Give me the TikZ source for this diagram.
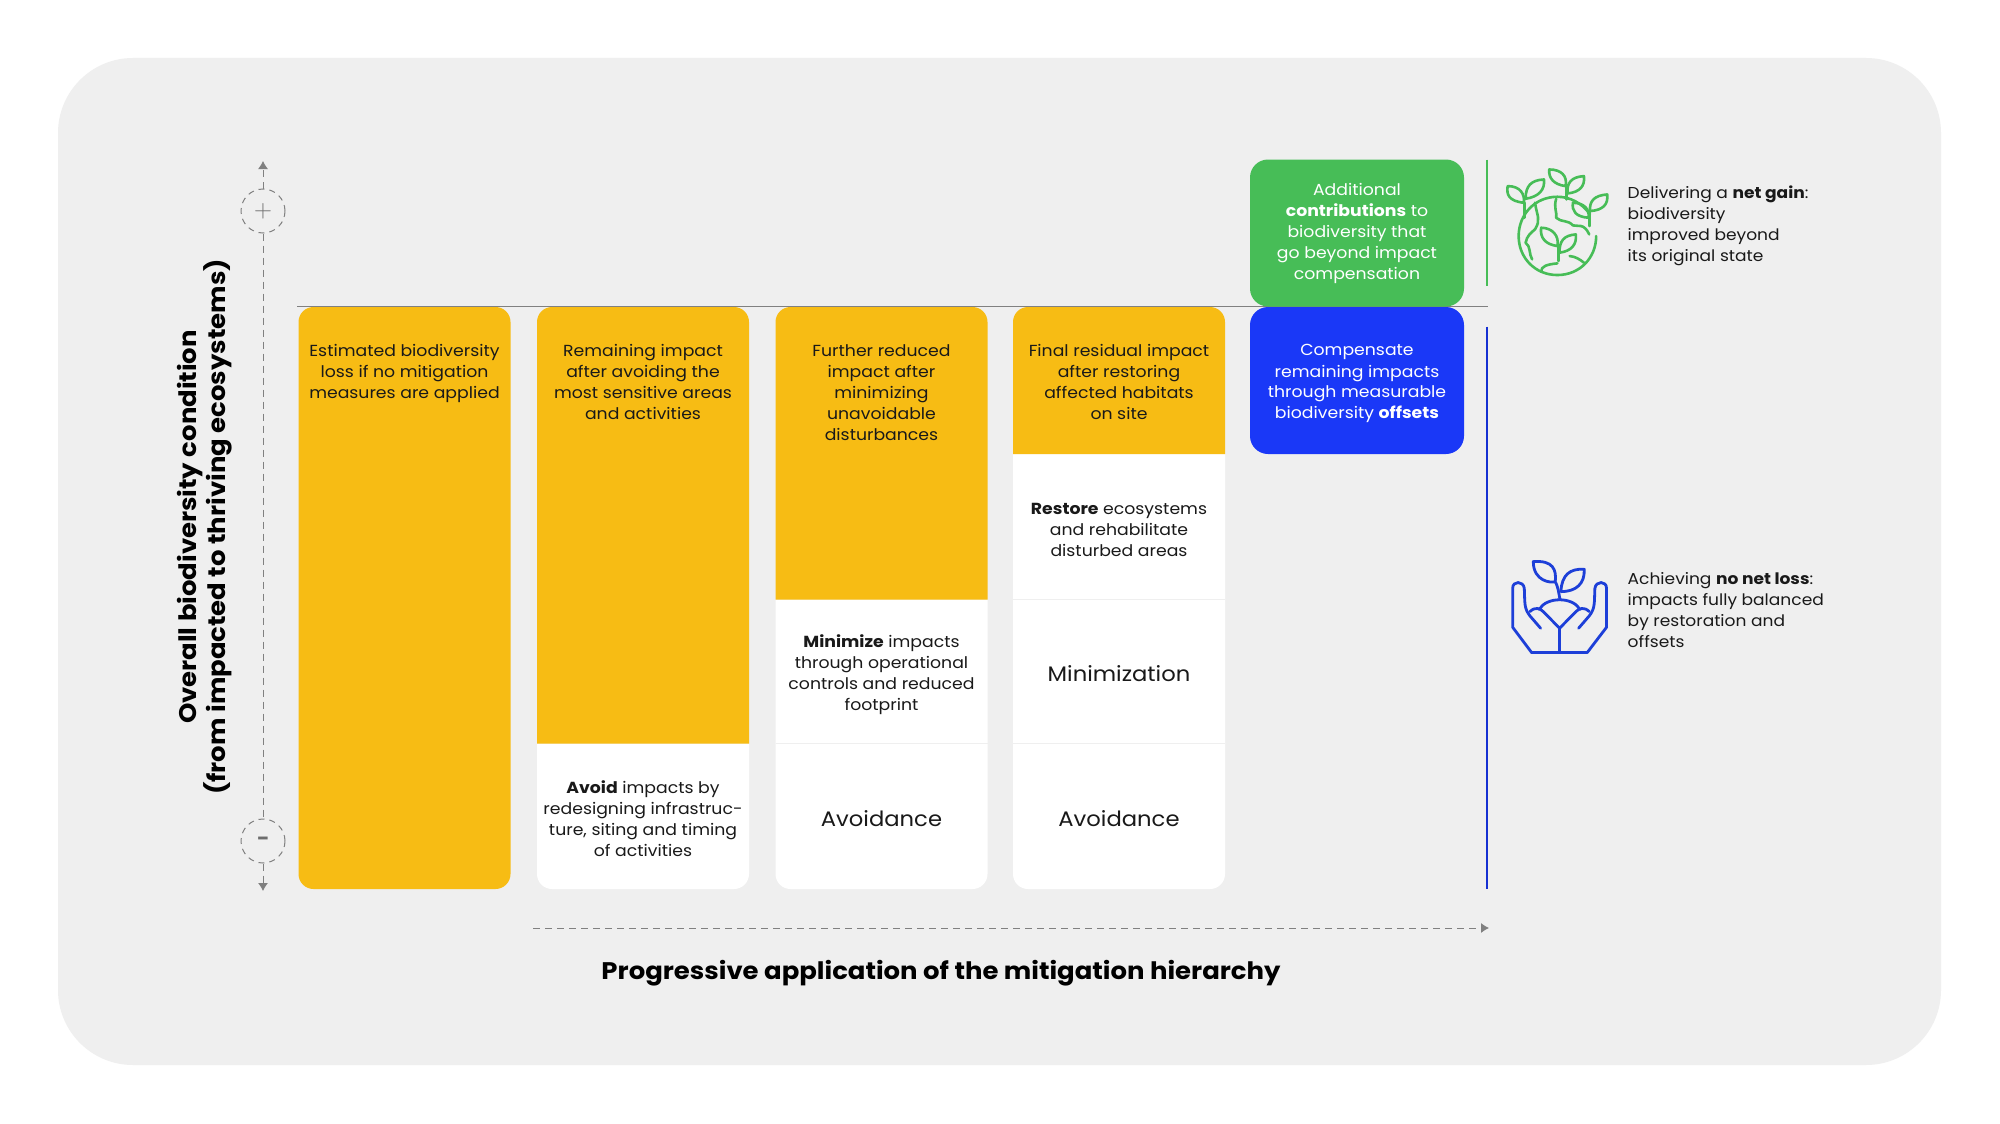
\documentclass[tikz,border=0pt]{standalone}
\usepackage{fontspec}
\setmainfont{Poppins}[FakeStretch=1.08]
\usetikzlibrary{arrows.meta}
\definecolor{panelgray}{HTML}{EFEFEF}
\definecolor{baryellow}{HTML}{F7BC14}
\definecolor{offsetblue}{HTML}{1A38F7}
\definecolor{gaingreen}{HTML}{47BD57}
\definecolor{axisgray}{HTML}{808080}
\definecolor{iconblue}{HTML}{1D3FD8}
\tikzset{
  celltext/.style={anchor=north, inner sep=0pt, align=center, text=black!90, font=\fontsize{16}{21}\selectfont},
  steptext/.style={anchor=center, inner sep=0pt, align=center, text=black!90, font=\fontsize{21}{26}\selectfont},
  sidetext/.style={anchor=west, inner sep=0pt, align=left, text=black!90, font=\fontsize{15.8}{21}\selectfont},
  colorbox/.style={fill=offsetblue, rounded corners=18pt, minimum width=214pt, inner sep=0pt},
  axisline/.style={axisgray, line width=1pt, dash pattern=on 7pt off 5pt, -{Latex[length=8pt,width=10pt]}},
  axiscircle/.style={circle, draw=axisgray, line width=1pt, dash pattern=on 6pt off 5pt, minimum size=44pt, inner sep=0pt, text=axisgray!85!black},
  axistitle/.style={align=center, text=black, font=\fontsize{24}{25}\bfseries\selectfont},
}
\begin{document}
\begin{tikzpicture}[x=1pt, y=-1pt]
    \useasboundingbox (0,0) rectangle (2000,1124);
    \fill[white] (0,0) rectangle (2000,1124);
    \fill[panelgray, rounded corners=75pt] (58,58) rectangle (1941,1065);

    % Baseline behind the bars
    \coordinate (lineL) at (297,306.5);
    \coordinate (lineR) at (1488,306.5);
    \draw[axisgray, line width=1.2pt] (lineL) -- (lineR);

    % Bars
    \fill[baryellow, rounded corners=15pt] (298.5,307) rectangle (510.5,889);
    \foreach \x/\ybot in {537/743.5,775.5/599.5,1013/454}{
        \fill[white] (\x,\ybot) [rounded corners=15pt] -- (\x,889) -- (\x+212,889) [sharp corners] -- (\x+212,\ybot) -- cycle;
        \fill[baryellow] (\x,\ybot) [rounded corners=15pt] -- (\x,307) -- (\x+212,307) [sharp corners] -- (\x+212,\ybot) -- cycle;
    }
    \foreach \x/\y in {775.5/743.5,1013/599.5,1013/743.5}{
        \draw[panelgray, line width=0.8pt] (\x,\y) -- (\x+212,\y);
    }

    % Texts on yellow
    \node[celltext] (lossA) at (404.5,344.5) {Estimated biodiversity\\loss if no mitigation\\measures are applied};
    \node[celltext] (lossB) at (643,344.5) {Remaining impact\\after avoiding the\\most sensitive areas\\and activities};
    \node[celltext] (lossC) at (881.5,344.5) {Further reduced\\impact after\\minimizing\\unavoidable\\disturbances};
    \node[celltext] (lossD) at (1119,344.5) {Final residual impact\\after restoring\\affected habitats\\on site};

    % Texts on white
    \node[celltext, anchor=center] (avoidB) at (643,819) {\textbf{Avoid} impacts by\\redesigning infrastruc-\\ture, siting and timing\\of activities};
    \node[celltext, anchor=center] (minC) at (881.5,675) {\textbf{Minimize} impacts\\through operational\\controls and reduced\\footprint};
    \node[celltext, anchor=center] (restD) at (1119,529.5) {\textbf{Restore} ecosystems\\and rehabilitate\\disturbed areas};
    \node[steptext] (avoidC) at (881.5,819) {Avoidance};
    \node[steptext] (avoidD) at (1119,819) {Avoidance};
    \node[steptext] (minD) at (1119,673.5) {Minimization};

    % Offsets and gain
    \node[colorbox, fill=gaingreen, minimum height=147pt] (gain) at (1357,233) {};
    \node[colorbox, minimum height=147pt] (offset) at (1357,380.5) {};
    \node[celltext, anchor=center, text=white] (gainText) at (1357,233.5) {Additional\\\textbf{contributions} to\\biodiversity that\\go beyond impact\\compensation};
    \node[celltext, text=white] (offsetText) at (1357,344.5) {Compensate\\remaining impacts\\through measurable\\biodiversity \textbf{offsets}};

    % Side rules
    \coordinate (gainA) at (1487,159.5);
    \coordinate (gainB) at (1487,285.5);
    \coordinate (lossTop) at (1487,326.5);
    \coordinate (lossBot) at (1487,889);
    \draw[gaingreen, line width=1.2pt] (gainA) -- (gainB);
    \draw[offsetblue!85!black, line width=1.4pt] (lossTop) -- (lossBot);

    % Side notes
    \node[sidetext] (noteGain) at (1627.5,226) {Delivering a \textbf{net gain}:\\biodiversity\\improved beyond\\its original state};
    \node[sidetext] (noteLoss) at (1627.5,610) {Achieving \textbf{no net loss}:\\impacts fully balanced\\by restoration and\\offsets};

    % Vertical axis
    \node[axiscircle, font=\fontsize{34}{34}\selectfont] (plus) at (263,211) {$+$};
    \node[axiscircle, font=\fontsize{20}{20}\bfseries\selectfont] (minus) at (263,841) {\raisebox{-2pt}{−}};
    \coordinate (axisTop) at (263,161);
    \coordinate (axisBot) at (263,891);
    \draw[axisline] (plus) -- (axisTop);
    \draw[axisline, -] (plus) -- (minus);
    \draw[axisline] (minus) -- (axisBot);
    \node[axistitle, rotate=90] (ylabel) at (205,527) {Overall biodiversity condition\\(from impacted to thriving ecosystems)};

    % Horizontal axis
    \coordinate (xStart) at (533,928);
    \coordinate (xEnd) at (1489,928);
    \draw[axisline] (xStart) -- (xEnd);
    \node[axistitle] (xlabel) at (941,973) {Progressive application of the mitigation hierarchy};

    % Globe icon
    \begin{scope}[shift={(1231,139.5)}, x=0.408pt, y=-0.333pt, gaingreen, line width=2.6pt, line cap=round, line join=round]
        \draw (880,225) .. controls (860,190) and (830,172) .. (800,172) .. controls (745,172) and (705,225) .. (705,290) .. controls (705,355) and (745,407) .. (800,407) .. controls (855,407) and (895,355) .. (895,290);
        \foreach \sx/\sy in {720/190, 822/135, 878/215, 802/320}{
            \draw (\sx,\sy) -- (\sx,\sy+45);
        }
        % leaves
        \draw (718,190) .. controls (680,185) and (675,165) .. (678,140) .. controls (710,140) and (720,165) .. (718,190);
        \draw (722,178) .. controls (722,140) and (735,122) .. (767,120) .. controls (770,150) and (755,172) .. (722,178);
        \draw (820,140) .. controls (790,135) and (778,115) .. (780,90) .. controls (810,90) and (825,110) .. (820,140);
        \draw (825,162) .. controls (822,130) and (835,112) .. (865,110) .. controls (868,140) and (855,158) .. (825,162);
        \draw (876,235) .. controls (845,232) and (835,215) .. (838,190) .. controls (865,190) and (880,210) .. (876,235);
        \draw (880,215) .. controls (878,185) and (890,168) .. (922,165) .. controls (925,195) and (912,212) .. (880,215);
        \draw (800,320) .. controls (770,315) and (757,295) .. (760,265) .. controls (788,265) and (805,290) .. (800,320);
        \draw (805,340) .. controls (805,305) and (815,288) .. (845,285) .. controls (848,315) and (835,335) .. (805,340);
        % continents
        \draw (797,178) .. controls (790,205) and (800,220) .. (797,235) .. controls (810,250) and (825,240) .. (838,258) .. controls (850,262) and (865,250) .. (878,285);
        \draw (745,190) .. controls (750,230) and (760,240) .. (745,270) .. controls (735,280) and (725,290) .. (722,310) .. controls (735,320) and (730,345) .. (738,360);
        \draw (760,397) .. controls (760,380) and (775,375) .. (800,372);
        \draw (830,350) .. controls (845,352) and (855,360) .. (865,370);
    \end{scope}

    % Hands icon
    \begin{scope}[shift={(1480,540)}, x=0.333pt, y=-0.333pt, iconblue, line width=2.8pt, line cap=round, line join=round]
        \draw (182,265) -- (150,228) .. controls (132,205) and (135,190) .. (133,145) .. controls (130,122) and (98,122) .. (98,145) -- (98,262) -- (155,338) -- (322,338) -- (380,262) -- (380,145) .. controls (380,122) and (348,122) .. (345,145) .. controls (343,190) and (346,205) .. (328,228) -- (296,265);
        \draw (150,215) .. controls (165,200) and (180,205) .. (190,215) -- (239,265) -- (288,215) .. controls (298,205) and (313,200) .. (328,215);
        \draw (239,265) -- (239,338);
        \draw (178,208) .. controls (200,170) and (278,170) .. (300,208);
        \draw (240,178) .. controls (236,155) and (234,140) .. (226,125) .. controls (215,130) and (160,125) .. (160,65) .. controls (220,60) and (230,90) .. (226,125);
        \draw (243,155) .. controls (290,155) and (315,130) .. (313,88) .. controls (270,85) and (245,105) .. (243,155);
    \end{scope}
\end{tikzpicture}
\end{document}
